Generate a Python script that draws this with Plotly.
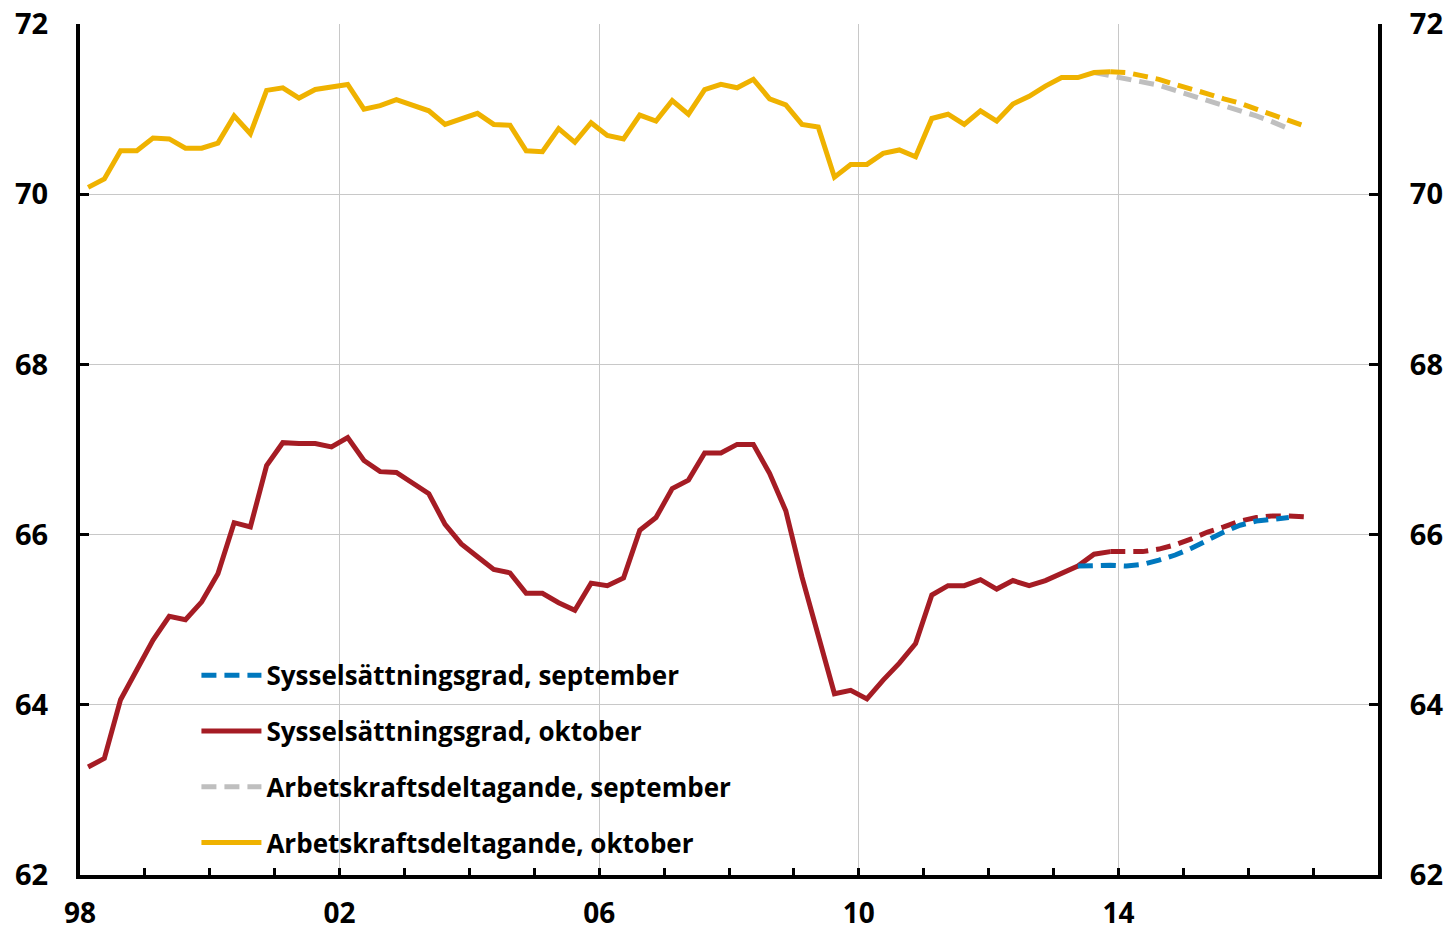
import plotly.graph_objects as go

# ---------------- data ----------------
years = list(range(1998, 2017))
quarters = [f"{y}K{q}" for y in years for q in (1, 2, 3, 4)]  # 1998K1 .. 2016K4


def qpos(label):
    y, q = label.split("K")
    return int(y) + (int(q) - 0.5) / 4.0


# Sysselsättningsgrad, oktober: outcome 1998K1-2013K4
emp_okt_hist = [
    63.27, 63.37, 64.06, 64.41, 64.76, 65.04, 65.00, 65.21, 65.54, 66.14,
    66.09, 66.81, 67.08, 67.07, 67.07, 67.03, 67.14, 66.87, 66.74, 66.73,
    66.60, 66.48, 66.12, 65.89, 65.74, 65.59, 65.55, 65.31, 65.31, 65.20,
    65.11, 65.43, 65.40, 65.49, 66.05, 66.20, 66.54, 66.64, 66.96, 66.96,
    67.06, 67.06, 66.72, 66.28, 65.50, 64.80, 64.13, 64.17, 64.07, 64.29,
    64.49, 64.72, 65.29, 65.40, 65.40, 65.47, 65.36, 65.46, 65.40, 65.46,
    65.55, 65.63, 65.77, 65.80,
]
# Sysselsättningsgrad, oktober: forecast 2013K4-2016K4
emp_okt_fc = [65.80, 65.80, 65.80, 65.83, 65.88, 65.95, 66.03, 66.09, 66.16,
              66.20, 66.22, 66.22, 66.21]
# Sysselsättningsgrad, september: forecast 2013K2-2016K3
emp_sep_fc = [65.63, 65.64, 65.64, 65.63, 65.65, 65.70, 65.76, 65.84, 65.94,
              66.03, 66.11, 66.16, 66.18, 66.20]

# Arbetskraftsdeltagande, oktober: outcome 1998K1-2013K4
lab_okt_hist = [
    70.08, 70.18, 70.51, 70.51, 70.66, 70.65, 70.54, 70.54, 70.60, 70.92,
    70.71, 71.22, 71.25, 71.13, 71.23, 71.26, 71.29, 71.00, 71.04, 71.11,
    71.05, 70.98, 70.82, 70.88, 70.95, 70.82, 70.81, 70.51, 70.50, 70.77,
    70.61, 70.84, 70.69, 70.65, 70.93, 70.86, 71.10, 70.94, 71.23, 71.29,
    71.25, 71.35, 71.12, 71.05, 70.82, 70.79, 70.20, 70.35, 70.35, 70.48,
    70.52, 70.44, 70.89, 70.94, 70.82, 70.98, 70.86, 71.06, 71.15, 71.27,
    71.37, 71.37, 71.43, 71.44,
]
# Arbetskraftsdeltagande, oktober: forecast 2013K4-2016K4
lab_okt_fc = [71.44, 71.43, 71.39, 71.35, 71.29, 71.24, 71.18, 71.12, 71.07,
              71.00, 70.93, 70.86, 70.80]
# Arbetskraftsdeltagande, september: forecast 2013K3-2016K3
lab_sep_fc = [71.43, 71.39, 71.35, 71.32, 71.28, 71.22, 71.16, 71.10, 71.05,
              70.98, 70.92, 70.85, 70.77]

x_ticks = [1998, 2002, 2006, 2010, 2014]
x_ticktext = ["98", "02", "06", "10", "14"]
y_ticks = [62, 64, 66, 68, 70, 72]

# ---------------- styling ----------------
C_BLUE = "#0078BE"
C_RED = "#A51C24"
C_GREY = "#BFBFBF"
C_YEL = "#EFB200"
LW = 5
DASH = "15px,8px"
FONT = "Open Sans"

n_hist = len(emp_okt_hist)
x_hist = [qpos(q) for q in quarters[:n_hist]]
x_okt_fc = [qpos(q) for q in quarters[n_hist - 1:n_hist - 1 + len(emp_okt_fc)]]
x_emp_sep = [qpos(q) for q in quarters[n_hist - 3:n_hist - 3 + len(emp_sep_fc)]]
x_lab_sep = [qpos(q) for q in quarters[n_hist - 2:n_hist - 2 + len(lab_sep_fc)]]

fig = go.Figure()

fig.add_trace(go.Scatter(x=x_hist, y=emp_okt_hist, mode="lines",
                         line=dict(color=C_RED, width=LW),
                         name="Sysselsättningsgrad, oktober",
                         legendgroup="b", legendrank=2))
fig.add_trace(go.Scatter(x=x_okt_fc, y=emp_okt_fc, mode="lines",
                         line=dict(color=C_RED, width=LW, dash=DASH),
                         showlegend=False, legendgroup="b"))
fig.add_trace(go.Scatter(x=x_emp_sep, y=emp_sep_fc, mode="lines",
                         line=dict(color=C_BLUE, width=LW, dash=DASH),
                         name="Sysselsättningsgrad, september",
                         legendgroup="a", legendrank=1))
fig.add_trace(go.Scatter(x=x_lab_sep, y=lab_sep_fc, mode="lines",
                         line=dict(color=C_GREY, width=LW, dash=DASH),
                         name="Arbetskraftsdeltagande, september",
                         legendgroup="c", legendrank=3))
fig.add_trace(go.Scatter(x=x_hist, y=lab_okt_hist, mode="lines",
                         line=dict(color=C_YEL, width=LW),
                         name="Arbetskraftsdeltagande, oktober",
                         legendgroup="d", legendrank=4))
fig.add_trace(go.Scatter(x=x_okt_fc, y=lab_okt_fc, mode="lines",
                         line=dict(color=C_YEL, width=LW, dash=DASH),
                         showlegend=False, legendgroup="d"))
# invisible trace to activate right axis
fig.add_trace(go.Scatter(x=[x_hist[0]], y=[lab_okt_hist[0]], yaxis="y2",
                         mode="lines", showlegend=False, hoverinfo="skip",
                         line=dict(color="rgba(0,0,0,0)")))

tickfont = dict(family=FONT, size=29, color="black", weight="bold")
xtickfont = dict(family=FONT, size=28, color="black", weight="bold")

fig.update_layout(
    width=1450, height=930,
    margin=dict(l=80, r=72, t=24, b=55, autoexpand=False),
    paper_bgcolor="white", plot_bgcolor="white",
    showlegend=True,
    legend=dict(x=0.0897, y=0.2623, xanchor="left", yanchor="top",
                bgcolor="rgba(0,0,0,0)", borderwidth=0,
                font=dict(family=FONT, size=26, color="black", weight="bold"),
                tracegroupgap=19, itemwidth=60, traceorder="grouped"),
    xaxis=dict(range=[1998, 2018], tickvals=x_ticks, ticktext=x_ticktext,
               ticks="inside", ticklen=7, tickwidth=3, tickcolor="black",
               showline=True, linewidth=4, linecolor="black",
               showgrid=True, gridcolor="#C8C8C8", gridwidth=1.3,
               zeroline=False, tickfont=xtickfont, ticklabelstandoff=10,
               automargin=False,
               minor=dict(tickvals=list(range(1998, 2019)), ticks="inside",
                          ticklen=7, tickwidth=3, tickcolor="black",
                          showgrid=False)),
    yaxis=dict(range=[62, 72], tickvals=y_ticks, ticks="inside", ticklen=9,
               tickwidth=3, tickcolor="black", showline=True, linewidth=4,
               linecolor="black", showgrid=True, gridcolor="#C8C8C8",
               gridwidth=1.3, zeroline=False, tickfont=tickfont,
               ticklabelstandoff=22, automargin=False),
    yaxis2=dict(range=[62, 72], tickvals=y_ticks, ticks="inside", ticklen=9,
                tickwidth=3, tickcolor="black", showline=True, linewidth=4,
                linecolor="black", showgrid=False, zeroline=False,
                overlaying="y", side="right", tickfont=tickfont,
                ticklabelstandoff=22, automargin=False),
)

fig.write_html("out.html",
               config={"displayModeBar": False},
               post_script="document.body.style.margin='0px';"
                           "document.body.style.overflow='hidden';")
